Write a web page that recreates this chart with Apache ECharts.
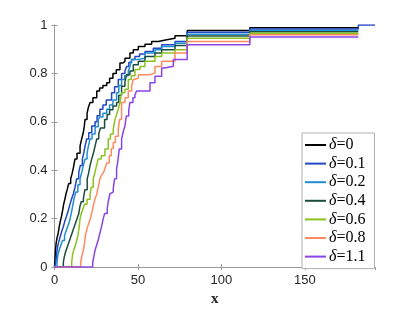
<!DOCTYPE html>
<html>
<head>
<meta charset="utf-8">
<script src="https://cdn.jsdelivr.net/npm/echarts@6/dist/echarts.min.js"></script>
<style>html,body{margin:0;padding:0;background:#fff}#c{width:415px;height:312px}</style>
</head>
<body>
<div id="c"></div>
<script>
const seriesNames = ['δ=0', 'δ=0.1', 'δ=0.2', 'δ=0.4', 'δ=0.6', 'δ=0.8', 'δ=1.1'];
const xTicks = [0, 50, 100, 150];
const yTicks = [0, 0.2, 0.4, 0.6, 0.8, 1];

const cdfDelta0 = [[0,0],[0.3,0.03],[0.6,0.07],[1,0.1],[1.5,0.12],[2.2,0.14],[2.9,0.17],[3.5,0.19],[4.2,0.21],[4.9,0.235],[5.5,0.26],[6.3,0.283],[6.9,0.303],[7.6,0.32],[8.5,0.345],[9.7,0.365],[10.5,0.385],[11.3,0.41],[12.3,0.447],[13.5,0.47],[15.3,0.5],[16.3,0.53],[17.3,0.557],[17.8,0.58],[18.3,0.61],[19.5,0.635],[20.3,0.66],[21.3,0.68],[23,0.7],[25.3,0.727],[27,0.74],[29,0.75],[31.3,0.761],[33,0.78],[35,0.8],[37,0.815],[39.2,0.843],[41,0.85],[42.2,0.863],[45.2,0.884],[47.2,0.898],[50.2,0.911],[54.2,0.921],[58.2,0.932],[62.2,0.939],[67.2,0.945],[72.2,0.956],[79.5,0.977],[117,0.989],[182,0.989]];
const cdfDelta01 = [[0,0],[0.8,0.02],[1.2,0.05],[1.8,0.08],[2.3,0.098],[3.2,0.12],[4.2,0.145],[5.3,0.168],[6.2,0.19],[7.2,0.21],[8.3,0.235],[9.3,0.26],[10.3,0.283],[11.3,0.303],[12.3,0.33],[13.3,0.365],[14.5,0.39],[15.5,0.42],[16.7,0.447],[17.5,0.47],[18.3,0.5],[19.3,0.529],[20.5,0.555],[22.3,0.583],[24.3,0.6],[25.5,0.625],[27.2,0.652],[29,0.67],[31,0.69],[34.2,0.72],[36,0.745],[38.2,0.775],[40.2,0.8],[42.2,0.81],[43.2,0.829],[44.5,0.845],[46.2,0.857],[48.2,0.87],[51,0.88],[54.2,0.891],[59.2,0.904],[64.2,0.918],[72.2,0.932],[79.5,0.97],[117,0.983],[182,1],[192,1]];
const cdfDelta02 = [[0,0],[1.5,0.02],[2,0.05],[2.8,0.07],[3.8,0.09],[4.8,0.11],[6,0.13],[7,0.15],[8,0.17],[9,0.19],[10,0.22],[10.8,0.25],[11.7,0.283],[12.8,0.31],[14,0.34],[15.3,0.365],[16.3,0.39],[17.3,0.42],[18.3,0.447],[19.5,0.47],[20.3,0.5],[21.3,0.529],[22.5,0.55],[24.3,0.58],[26.2,0.61],[27.2,0.62],[29,0.635],[31.3,0.652],[33,0.67],[35,0.69],[37.2,0.72],[38.5,0.75],[40.2,0.775],[42,0.79],[44.2,0.809],[45.2,0.829],[46.2,0.857],[49.2,0.863],[54.2,0.884],[60.2,0.898],[64.2,0.911],[72.2,0.925],[79.5,0.962],[117,0.977],[182,0.977]];
const cdfDelta04 = [[0,0],[5.3,0.02],[5.8,0.04],[6.5,0.06],[7.5,0.08],[8.5,0.1],[9.5,0.12],[10.5,0.14],[11.5,0.16],[12.5,0.18],[13.5,0.2],[14.5,0.22],[15.2,0.25],[16,0.27],[17.3,0.283],[18.2,0.32],[19.6,0.365],[20.5,0.39],[21.3,0.42],[22.3,0.447],[23.3,0.47],[24.3,0.5],[25.3,0.529],[26.5,0.55],[27.5,0.575],[30,0.61],[31.5,0.63],[33,0.65],[35,0.665],[37.2,0.68],[38.5,0.71],[40.2,0.747],[42.2,0.765],[43.2,0.795],[45.2,0.81],[47.2,0.836],[50.2,0.85],[54.2,0.87],[60.2,0.884],[64.2,0.898],[72.2,0.915],[79.5,0.955],[117,0.972],[182,0.972]];
const cdfDelta06 = [[0,0],[10.3,0.02],[10.8,0.05],[11.5,0.07],[12.5,0.09],[13.3,0.11],[14,0.13],[14.7,0.16],[15.3,0.2],[16,0.22],[17,0.24],[18,0.26],[19.5,0.28],[21.3,0.3],[22,0.33],[23.2,0.365],[24.2,0.39],[25.2,0.42],[26.2,0.447],[28,0.46],[30.2,0.488],[32.2,0.529],[33.5,0.55],[35.2,0.57],[36.2,0.61],[37.2,0.63],[38.2,0.652],[39.3,0.68],[40.2,0.72],[42.2,0.735],[44.2,0.775],[46,0.79],[48.2,0.816],[51.2,0.829],[54.2,0.85],[60.2,0.87],[64.2,0.884],[72.2,0.898],[79.5,0.945],[117,0.966],[182,0.966]];
const cdfDelta08 = [[0,0],[15.7,0.02],[16.5,0.05],[17.3,0.07],[18,0.1],[18.5,0.13],[19.5,0.16],[20.5,0.18],[21.5,0.2],[22.5,0.23],[23.5,0.26],[24.3,0.283],[25.3,0.3],[26.2,0.33],[27.2,0.365],[28.2,0.38],[29.3,0.39],[30.2,0.406],[31.3,0.43],[32.8,0.46],[34,0.49],[35.2,0.515],[36.5,0.54],[38.2,0.57],[39,0.61],[40.2,0.68],[42.2,0.7],[44.2,0.727],[46.2,0.747],[47.2,0.775],[48.2,0.78],[50.2,0.795],[57.2,0.802],[60.2,0.829],[64.2,0.85],[72.2,0.884],[79.5,0.932],[117,0.96],[182,0.96]];
const cdfDelta11 = [[0,0],[22.9,0.02],[23.5,0.04],[24.3,0.07],[25.2,0.09],[26.2,0.112],[27.2,0.14],[28.2,0.168],[29.2,0.2],[30,0.221],[31.6,0.242],[32.2,0.27],[33.2,0.303],[34.2,0.31],[35.2,0.324],[36,0.365],[37.2,0.406],[38,0.44],[38.8,0.488],[40.2,0.529],[41.2,0.56],[42.2,0.583],[43,0.624],[44.5,0.65],[45.2,0.68],[47,0.7],[48.2,0.713],[49.2,0.727],[57.2,0.761],[60.2,0.788],[64.2,0.822],[66,0.83],[71.2,0.857],[79.5,0.918],[117,0.95],[182,0.95]];

const seriesData = [cdfDelta0, cdfDelta01, cdfDelta02, cdfDelta04, cdfDelta06, cdfDelta08, cdfDelta11];
const colors = ['#000000', '#2346c4', '#1f8ecf', '#1b4d3c', '#8cc21f', '#ff8a5e', '#8a44e8'];

const axisGray = '#9a9a9a';
const labelColor = '#262626';
const sans = '"Liberation Sans", Arial, sans-serif';
const serif = '"Liberation Serif", "DejaVu Serif", serif';

const chart = echarts.init(document.getElementById('c'), null, {renderer: 'canvas'});
const xFmt = v => (xTicks.indexOf(v) >= 0 ? String(v) : '');
const yFmt = v => (v === 0 ? '0' : (Math.abs(v - 1) < 1e-9 ? '1' : v.toFixed(1)));

chart.setOption({
  animation: false,
  backgroundColor: '#fff',
  grid: {left: 54.5, right: 40, top: 25, bottom: 43, containLabel: false},
  xAxis: [{
    type: 'value', min: 0, max: 192, interval: 50, position: 'bottom',
    name: 'x', nameLocation: 'middle', nameGap: 23,
    nameTextStyle: {fontFamily: serif, fontWeight: 'bold', fontSize: 15, color: labelColor},
    axisLine: {show: true, lineStyle: {color: axisGray, width: 1}},
    axisTick: {show: true, inside: true, length: 3, lineStyle: {color: axisGray}},
    axisLabel: {formatter: xFmt, fontFamily: sans, fontSize: 13, color: labelColor, margin: 7, showMaxLabel: false},
    splitLine: {show: false}
  }, {
    type: 'value', min: 0, max: 192, interval: 50, position: 'top',
    axisLine: {show: false},
    axisTick: {show: true, inside: true, length: 3, lineStyle: {color: axisGray}},
    axisLabel: {show: false}, splitLine: {show: false}
  }],
  yAxis: [{
    type: 'value', min: 0, max: 1, interval: 0.2, position: 'left',
    axisLine: {show: true, lineStyle: {color: axisGray, width: 1}},
    axisTick: {show: true, inside: true, length: 3, lineStyle: {color: axisGray}},
    axisLabel: {formatter: yFmt, fontFamily: sans, fontSize: 13, color: labelColor, margin: 7},
    splitLine: {show: false}
  }, {
    type: 'value', min: 0, max: 1, interval: 0.2, position: 'right',
    axisLine: {show: true, lineStyle: {color: axisGray, width: 1}},
    axisTick: {show: true, inside: true, length: 3, lineStyle: {color: axisGray}},
    axisLabel: {show: false}, splitLine: {show: false}
  }],
  legend: {
    show: true, orient: 'vertical', left: 302, top: 133,
    icon: 'rect', itemWidth: 21, itemHeight: 2, itemGap: 2.6,
    padding: [4, 9, 4, 3],
    backgroundColor: '#fff', borderColor: '#b0b0b0', borderWidth: 1, borderRadius: 0,
    data: seriesNames,
    formatter: n => '{i|δ}{r|' + n.slice(1) + '}',
    textStyle: {
      color: '#000', padding: [0, 0, 0, -2],
      rich: {
        i: {fontFamily: serif, fontStyle: 'italic', fontSize: 16, color: '#000'},
        r: {fontFamily: serif, fontSize: 16, color: '#000'}
      }
    }
  },
  series: seriesData.map((d, i) => ({
    name: seriesNames[i], type: 'line', step: 'end', data: d,
    xAxisIndex: 0, yAxisIndex: 0,
    symbol: 'none', showSymbol: false, color: colors[i],
    lineStyle: {width: 1.5, color: colors[i]},
    emphasis: {disabled: true}, z: 2 + i
  }))
});
</script>
</body>
</html>
